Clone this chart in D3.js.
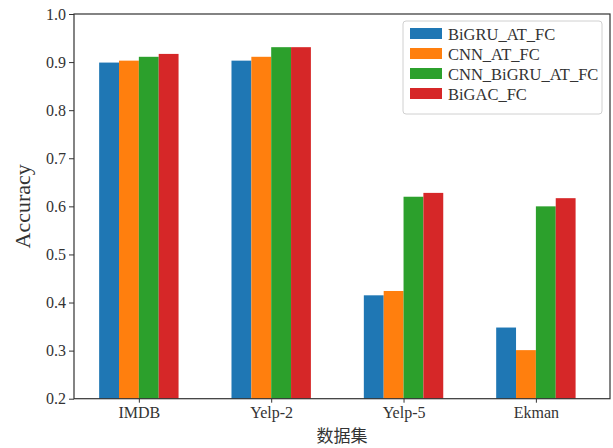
<!DOCTYPE html>
<html>
<head>
<meta charset="utf-8">
<script src="https://cdn.jsdelivr.net/npm/d3@7/dist/d3.min.js"></script>
<style>
  html, body { margin: 0; padding: 0; background: #fff; }
  svg { display: block; }
  .serif { font-family: "Liberation Serif", "Times New Roman", serif; }
</style>
</head>
<body>
<svg id="chart" width="613" height="448"></svg>
<script>
// Datasets along the x axis
const categories = ["IMDB", "Yelp-2", "Yelp-5", "Ekman"];
// Model names, one series each
const seriesNames = ["BiGRU_AT_FC", "CNN_AT_FC", "CNN_BiGRU_AT_FC", "BiGAC_FC"];
// Accuracy per dataset for each model
const bigruAtFc      = [0.899, 0.903, 0.415, 0.348];
const cnnAtFc        = [0.903, 0.911, 0.424, 0.301];
const cnnBigruAtFc   = [0.911, 0.931, 0.620, 0.600];
const bigacFc        = [0.917, 0.931, 0.628, 0.617];
const yTicks = [0.2, 0.3, 0.4, 0.5, 0.6, 0.7, 0.8, 0.9, 1.0];
const colors = ["#1f77b4", "#ff7f0e", "#2ca02c", "#d62728"];

const seriesValues = [bigruAtFc, cnnAtFc, cnnBigruAtFc, bigacFc];

const svg = d3.select("#chart");
const plot = { left: 74, right: 610, top: 14, bottom: 398.7 };
const serif = "Liberation Serif";

// Group index on x (bars offset around each integer position)
const x = d3.scaleLinear().domain([-0.49, 3.56]).range([plot.left, plot.right]);
const y = d3.scaleLinear().domain([0.2, 1.0]).range([plot.bottom, plot.top]);
const barW = 0.15;

// Bars
seriesValues.forEach((vals, s) => {
  const off = (s - 1.5) * barW;
  svg.append("g").selectAll("rect")
    .data(vals)
    .join("rect")
    .attr("x", (d, i) => x(i + off - barW / 2))
    .attr("width", (d, i) => x(i + off + barW / 2) - x(i + off - barW / 2))
    .attr("y", d => y(d))
    .attr("height", d => y(0.2) - y(d))
    .attr("fill", colors[s]);
});

// Axes
const yAxis = d3.axisLeft(y).tickValues(yTicks).tickFormat(d3.format(".1f")).tickSizeOuter(0).tickSize(5).tickPadding(3);
const xAxis = d3.axisBottom(x).tickValues(d3.range(categories.length)).tickFormat(i => categories[i]).tickSizeOuter(0).tickSize(4).tickPadding(4);

const gy = svg.append("g").attr("transform", `translate(${plot.left},0)`).call(yAxis);
const gx = svg.append("g").attr("transform", `translate(0,${plot.bottom})`).call(xAxis);
[gx, gy].forEach(g => {
  g.attr("font-family", serif).attr("font-size", 16);
  g.select(".domain").remove();
  g.selectAll(".tick line").attr("stroke", "#333").attr("stroke-width", 1);
  g.selectAll(".tick text").attr("fill", "#333").attr("font-family", serif).attr("font-size", 16);
});

// Frame around the plot area
svg.append("rect")
  .attr("x", plot.left).attr("y", plot.top)
  .attr("width", plot.right - plot.left).attr("height", plot.bottom - plot.top)
  .attr("fill", "none").attr("stroke", "#333").attr("stroke-width", 1.2);

// Axis titles
svg.append("text")
  .attr("transform", `translate(30,${(plot.top + plot.bottom) / 2}) rotate(-90)`)
  .attr("text-anchor", "middle")
  .attr("font-family", serif).attr("font-size", 22).attr("fill", "#333")
  .text("Accuracy");
svg.append("text")
  .attr("x", (plot.left + plot.right) / 2).attr("y", 442)
  .attr("text-anchor", "middle")
  .attr("font-family", "Noto Sans CJK SC").attr("font-size", 17).attr("fill", "#333")
  .text("数据集");

// Legend
const lg = svg.append("g");
lg.append("rect")
  .attr("x", 403).attr("y", 21).attr("width", 199).attr("height", 93)
  .attr("rx", 3).attr("fill", "#fff").attr("stroke", "#d0d0d0");
seriesNames.forEach((name, s) => {
  const rowY = 33 + s * 20;
  lg.append("rect").attr("x", 410).attr("y", rowY - 5).attr("width", 32).attr("height", 11).attr("fill", colors[s]);
  lg.append("text").attr("x", 448).attr("y", rowY + 7)
    .attr("font-family", serif).attr("font-size", 16.5).attr("fill", "#333")
    .text(name);
});
</script>
</body>
</html>
